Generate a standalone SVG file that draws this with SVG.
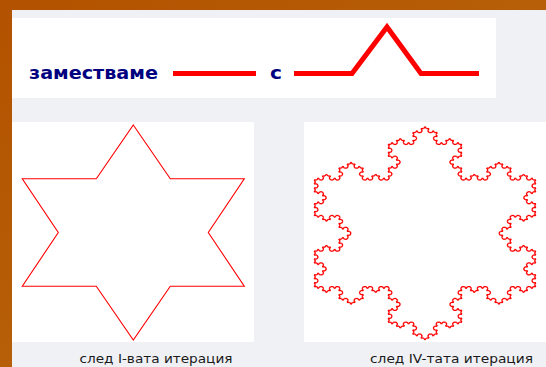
<svg xmlns="http://www.w3.org/2000/svg" width="546" height="367" viewBox="0 0 546 367">
<style>
.panel{fill:#ffffff}
.cap{font-family:"DejaVu Sans","Verdana",sans-serif;font-size:13px;fill:#1a1a1a}
.lbl{font-family:"DejaVu Sans","Verdana",sans-serif;font-size:17px;font-weight:bold;fill:#000080}
.thick{fill:none;stroke:#ff0000;stroke-width:5}
.thin{fill:none;stroke:#ff0000;stroke-width:1.1}
.flake{fill:none;stroke:#ff0000;stroke-width:1.3}
</style>
<defs>
<linearGradient id="og" x1="0" y1="0" x2="1" y2="1">
<stop offset="0" stop-color="#b35200"/>
<stop offset="0.5" stop-color="#b65e08"/>
<stop offset="1" stop-color="#9a3800"/>
</linearGradient>
<line id="k0" x1="0" y1="0" x2="1" y2="0" vector-effect="non-scaling-stroke"/>
<g id="k1">
<use href="#k0" transform="scale(0.3333333)"/>
<use href="#k0" transform="translate(0.3333333,0) rotate(-60) scale(0.3333333)"/>
<use href="#k0" transform="translate(0.5,-0.2886751) rotate(60) scale(0.3333333)"/>
<use href="#k0" transform="translate(0.6666667,0) scale(0.3333333)"/>
</g>
<g id="k2">
<use href="#k1" transform="scale(0.3333333)"/>
<use href="#k1" transform="translate(0.3333333,0) rotate(-60) scale(0.3333333)"/>
<use href="#k1" transform="translate(0.5,-0.2886751) rotate(60) scale(0.3333333)"/>
<use href="#k1" transform="translate(0.6666667,0) scale(0.3333333)"/>
</g>
<g id="k3">
<use href="#k2" transform="scale(0.3333333)"/>
<use href="#k2" transform="translate(0.3333333,0) rotate(-60) scale(0.3333333)"/>
<use href="#k2" transform="translate(0.5,-0.2886751) rotate(60) scale(0.3333333)"/>
<use href="#k2" transform="translate(0.6666667,0) scale(0.3333333)"/>
</g>
<g id="k4">
<use href="#k3" transform="scale(0.3333333)"/>
<use href="#k3" transform="translate(0.3333333,0) rotate(-60) scale(0.3333333)"/>
<use href="#k3" transform="translate(0.5,-0.2886751) rotate(60) scale(0.3333333)"/>
<use href="#k3" transform="translate(0.6666667,0) scale(0.3333333)"/>
</g>
</defs>

<g id="background">
<rect x="0" y="0" width="546" height="367" fill="url(#og)"/>
<rect x="12" y="10" width="534" height="357" fill="#f0f1f5"/>
</g>

<g id="rule-box">
<rect class="panel" x="12" y="18" width="484" height="80"/>
<text class="lbl" x="29" y="78.5" textLength="129" lengthAdjust="spacingAndGlyphs">заместваме</text>
<line class="thick" x1="173" y1="73.5" x2="256" y2="73.5"/>
<text class="lbl" x="270" y="78.5" textLength="12" lengthAdjust="spacingAndGlyphs">с</text>
<polyline class="thick" points="294,73.5 352,73.5 387,27 421,73.5 479,73.5"/>
</g>

<g id="iteration-1">
<rect class="panel" x="12" y="122" width="242" height="220"/>
<polygon class="thin" points="133.3,125 170.3,178.75 244.3,178.75 208.3,232.5 244.3,286.25 170.3,286.25 133.3,340 96.3,286.25 22.3,286.25 58.3,232.5 22.3,178.75 96.3,178.75"/>
<text class="cap" x="79.5" y="363" textLength="153" lengthAdjust="spacingAndGlyphs">след I-вата итерация</text>
</g>

<g id="iteration-4">
<rect class="panel" x="304" y="122" width="242" height="220"/>
<g class="flake" transform="translate(425,233.3) scale(1.2,1)">
<use href="#k4" transform="translate(0,-106.7) rotate(60) scale(184.8)"/>
<use href="#k4" transform="translate(92.4,53.35) rotate(180) scale(184.8)"/>
<use href="#k4" transform="translate(-92.4,53.35) rotate(-60) scale(184.8)"/>
</g>
<text class="cap" x="370" y="363" textLength="163" lengthAdjust="spacingAndGlyphs">след IV-тата итерация</text>
</g>
</svg>
